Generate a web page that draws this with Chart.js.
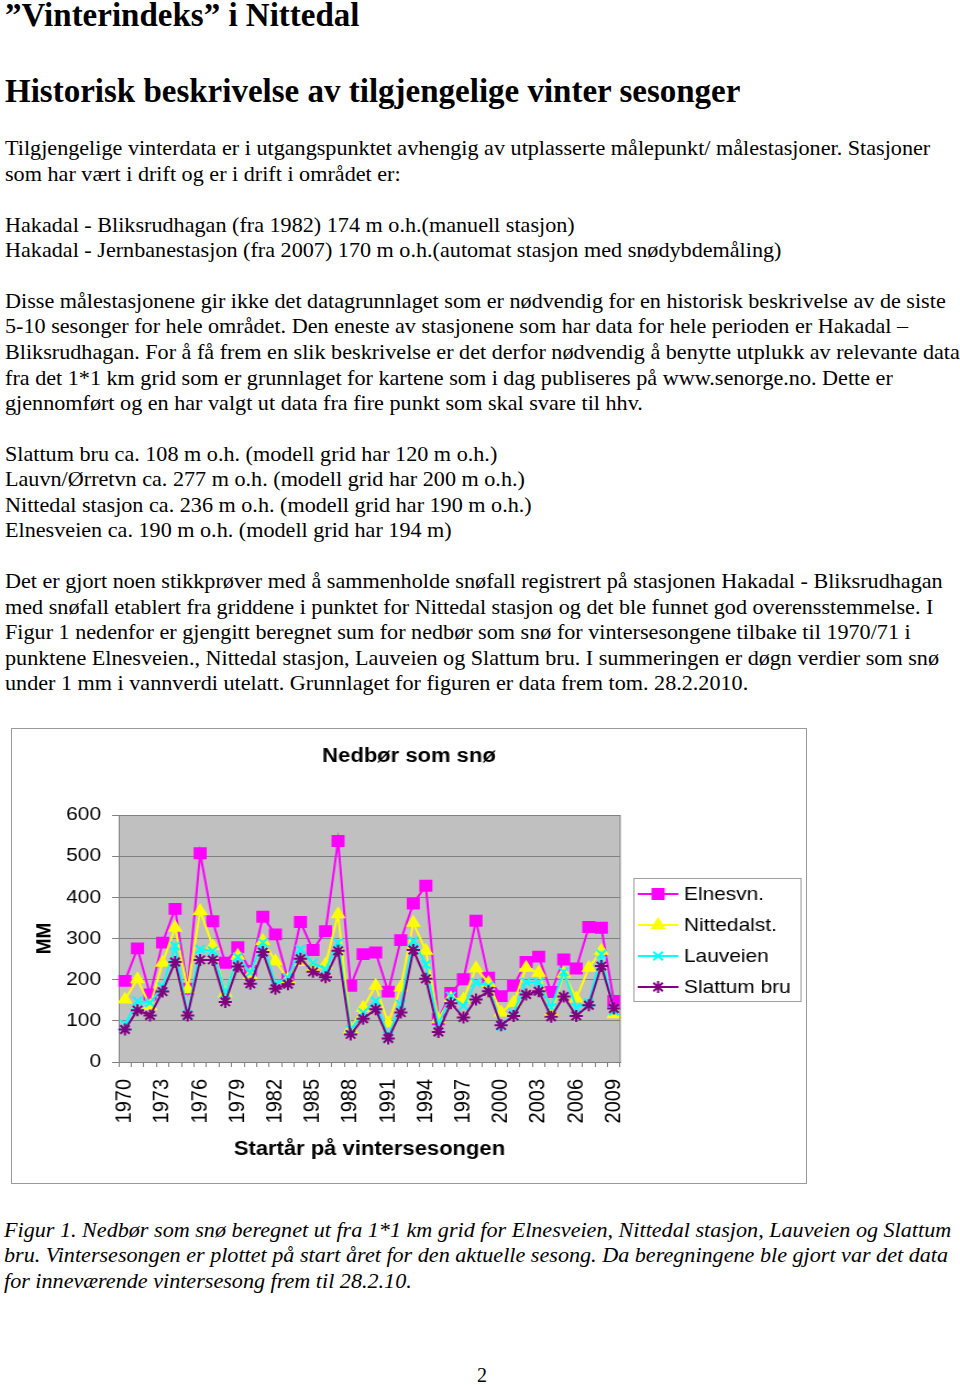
<!DOCTYPE html>
<html>
<head>
<meta charset="utf-8">
<script src="https://cdn.jsdelivr.net/npm/chart.js@4.4.0/dist/chart.umd.min.js"></script>
<style>
  body { margin: 0; background: #fff; width: 960px; height: 1385px; position: relative; overflow: hidden; }
  .t { position: absolute; left: 5px; white-space: nowrap; font-family: "Liberation Serif", "Times New Roman", serif; color: #000; transform-origin: 0 0; }
  .h1 { font-size: 33px; font-weight: bold; line-height: 36px; }
  .p { font-size: 21px; line-height: 24px; transform: scaleX(1.055); }
  .cap { font-size: 21px; line-height: 24px; font-style: italic; left: 4px; transform: scaleX(1.054); }
  #box { position: absolute; left: 11px; top: 728px; width: 794px; height: 454px; border: 1px solid #9a9a9a; overflow: hidden; }
  /* the source figure is stretched sideways, so the chart is too */
  #stretch { position: absolute; left: 0; top: 0; width: 722px; height: 454px; transform: scaleX(1.09972); transform-origin: 0 0; }
</style>
</head>
<body>

<div class="t h1" style="top:-3px">”Vinterindeks” i Nittedal</div>
<div class="t h1" style="top:73px">Historisk beskrivelse av tilgjengelige vinter sesonger</div>

<div class="t p" style="top:136px">Tilgjengelige vinterdata er i utgangspunktet avhengig av utplasserte målepunkt/ målestasjoner. Stasjoner</div>
<div class="t p" style="top:162px">som har vært i drift og er i drift i området er:</div>
<div class="t p" style="top:213px">Hakadal - Bliksrudhagan (fra 1982) 174 m o.h.(manuell stasjon)</div>
<div class="t p" style="top:238px">Hakadal - Jernbanestasjon (fra 2007) 170 m o.h.(automat stasjon med snødybdemåling)</div>
<div class="t p" style="top:289px">Disse målestasjonene gir ikke det datagrunnlaget som er nødvendig for en historisk beskrivelse av de siste</div>
<div class="t p" style="top:314px">5-10 sesonger for hele området. Den eneste av stasjonene som har data for hele perioden er Hakadal –</div>
<div class="t p" style="top:340px">Bliksrudhagan. For å få frem en slik beskrivelse er det derfor nødvendig å benytte utplukk av relevante data</div>
<div class="t p" style="top:366px">fra det 1*1 km grid som er grunnlaget for kartene som i dag publiseres på www.senorge.no. Dette er</div>
<div class="t p" style="top:391px">gjennomført og en har valgt ut data fra fire punkt som skal svare til hhv.</div>
<div class="t p" style="top:442px">Slattum bru ca. 108 m o.h. (modell grid har 120 m o.h.)</div>
<div class="t p" style="top:467px">Lauvn/Ørretvn ca. 277 m o.h. (modell grid har 200 m o.h.)</div>
<div class="t p" style="top:493px">Nittedal stasjon ca. 236 m o.h. (modell grid har 190 m o.h.)</div>
<div class="t p" style="top:518px">Elnesveien ca. 190 m o.h. (modell grid har 194 m)</div>
<div class="t p" style="top:569px">Det er gjort noen stikkprøver med å sammenholde snøfall registrert på stasjonen Hakadal - Bliksrudhagan</div>
<div class="t p" style="top:595px">med snøfall etablert fra griddene i punktet for Nittedal stasjon og det ble funnet god overensstemmelse. I</div>
<div class="t p" style="top:620px">Figur 1 nedenfor er gjengitt beregnet sum for nedbør som snø for vintersesongene tilbake til 1970/71 i</div>
<div class="t p" style="top:646px">punktene Elnesveien., Nittedal stasjon, Lauveien og Slattum bru. I summeringen er døgn verdier som snø</div>
<div class="t p" style="top:671px">under 1 mm i vannverdi utelatt. Grunnlaget for figuren er data frem tom. 28.2.2010.</div>

<div id="box"><div id="stretch"><canvas id="chart" width="722" height="454"></canvas></div></div>

<div class="t cap" style="top:1218px">Figur 1. Nedbør som snø beregnet ut fra 1*1 km grid for Elnesveien, Nittedal stasjon, Lauveien og Slattum</div>
<div class="t cap" style="top:1243px">bru. Vintersesongen er plottet på start året for den aktuelle sesong. Da beregningene ble gjort var det data</div>
<div class="t cap" style="top:1269px">for inneværende vintersesong frem til 28.2.10.</div>

<div class="t" style="top:1363px;left:477px;font-size:20px;line-height:24px">2</div>

<script>
// seasons (start year)
var years = ['1970','1971','1972','1973','1974','1975','1976','1977','1978','1979',
             '1980','1981','1982','1983','1984','1985','1986','1987','1988','1989',
             '1990','1991','1992','1993','1994','1995','1996','1997','1998','1999',
             '2000','2001','2002','2003','2004','2005','2006','2007','2008','2009'];

var elnesvn = [197, 276, 164, 290, 372, 178, 507, 342, 241, 279,
               221, 353, 310, 201, 340, 272, 318, 537, 185, 262,
               266, 171, 296, 385, 428, 104, 168, 201, 343, 205,
               160, 185, 243, 256, 170, 249, 227, 328, 326, 148];

var nittedalst = [152, 201, 136, 241, 326, 177, 367, 282, 167, 258,
                  212, 294, 245, 201, 243, 229, 237, 359, 80, 132,
                  185, 94, 181, 338, 270, 104, 155, 152, 228, 192,
                  120, 144, 229, 217, 120, 215, 154, 229, 270, 116];

var lauveien = [92, 148, 144, 183, 282, 115, 274, 270, 168, 255,
                217, 290, 189, 205, 274, 241, 225, 290, 79, 120,
                148, 63, 140, 294, 237, 91, 160, 136, 193, 185,
                87, 120, 194, 194, 132, 219, 132, 144, 262, 124];

var slattum = [79, 126, 113, 171, 243, 113, 248, 248, 146, 232,
               190, 267, 178, 189, 251, 219, 206, 270, 67, 105,
               128, 57, 120, 272, 202, 73, 143, 108, 152, 172,
               89, 112, 164, 172, 110, 159, 112, 138, 233, 130];

var yTicks = [0, 100, 200, 300, 400, 500, 600];

var SANS = '"Liberation Sans", Arial, sans-serif';

var decor = {
    id: 'decor',
    beforeDraw: function(chart) {
        var ctx = chart.ctx, a = chart.chartArea;
        ctx.save();
        ctx.fillStyle = '#c0c0c0';
        ctx.fillRect(a.left, a.top, a.right - a.left, a.bottom - a.top);
        ctx.restore();
    },
    afterDraw: function(chart) {
        var ctx = chart.ctx, a = chart.chartArea;
        ctx.save();
        // right edge of plot
        ctx.strokeStyle = '#808080';
        ctx.lineWidth = 1;
        ctx.beginPath();
        ctx.moveTo(a.right, a.top);
        ctx.lineTo(a.right, a.bottom);
        ctx.stroke();

        // title
        ctx.fillStyle = '#000';
        ctx.font = 'bold 20px ' + SANS;
        ctx.textAlign = 'center';
        ctx.textBaseline = 'middle';
        ctx.fillText('Nedbør som snø', 361, 27);

        // legend with frame
        var lx = 565, ly = 149, lw = 152, lh = 123;
        ctx.fillStyle = '#fff';
        ctx.fillRect(lx, ly, lw, lh);
        ctx.strokeStyle = '#a0a0a0';
        ctx.lineWidth = 1;
        ctx.strokeRect(lx + 0.5, ly + 0.5, lw, lh);
        ctx.font = '19px ' + SANS;
        ctx.textAlign = 'left';
        chart.data.datasets.forEach(function(ds, i) {
            var cy = ly + 16 + i * 31;
            ctx.strokeStyle = ds.borderColor;
            ctx.lineWidth = 2;
            ctx.beginPath();
            ctx.moveTo(lx + 4, cy);
            ctx.lineTo(lx + 41, cy);
            ctx.stroke();
            ctx.fillStyle = ds.backgroundColor;
            Chart.helpers.drawPoint(ctx, {
                pointStyle: ds.pointStyle,
                radius: ds.pointRadius,
                borderWidth: 2,
                rotation: 0
            }, lx + 22.5, cy);
            ctx.fillStyle = '#000';
            ctx.fillText(ds.label, lx + 46, cy + 1);
        });
        ctx.restore();
    }
};

function series(label, data, color, style, radius, order) {
    return {
        label: label,
        data: data,
        borderColor: color,
        backgroundColor: color,
        pointStyle: style,
        pointRadius: radius,
        pointHoverRadius: radius,
        pointBorderWidth: 2,
        borderWidth: 2,
        tension: 0,
        order: order
    };
}

new Chart(document.getElementById('chart'), {
    type: 'line',
    data: {
        labels: years,
        datasets: [
            series('Elnesvn.', elnesvn, '#ff00ff', 'rect', 7, 4),
            series('Nittedalst.', nittedalst, '#ffff00', 'triangle', 6, 3),
            series('Lauveien', lauveien, '#00ffff', 'crossRot', 6, 2),
            series('Slattum bru', slattum, '#800080', 'star', 6, 1)
        ]
    },
    options: {
        responsive: false,
        animation: false,
        layout: { padding: { left: 0, right: 169, top: 86, bottom: 18 } },
        plugins: {
            legend: { display: false },
            tooltip: { enabled: false },
            title: { display: false }
        },
        scales: {
            x: {
                offset: true,
                grid: { drawOnChartArea: false, offset: true, tickLength: 5, color: '#808080' },
                border: { color: '#808080', width: 1 },
                ticks: {
                    autoSkip: false,
                    minRotation: 90,
                    maxRotation: 90,
                    padding: 12,
                    color: '#000',
                    font: { family: SANS, size: 20 },
                    callback: function(v, i) { return i % 3 === 0 ? years[i] : ''; }
                },
                title: {
                    display: true,
                    text: 'Startår på vintersesongen',
                    color: '#000',
                    font: { family: SANS, size: 20, weight: 'bold' },
                    padding: { top: 0, bottom: 4 }
                },
                afterFit: function(s) { s.height = 103; }
            },
            y: {
                min: yTicks[0],
                max: yTicks[yTicks.length - 1],
                afterBuildTicks: function(s) { s.ticks = yTicks.map(function(v) { return { value: v }; }); },
                grid: { color: '#808080', tickLength: 6 },
                border: { color: '#808080', width: 1 },
                ticks: {
                    padding: 10,
                    color: '#000',
                    font: { family: SANS, size: 19 }
                },
                title: {
                    display: true,
                    text: 'MM',
                    color: '#000',
                    font: { family: SANS, size: 19, weight: 'bold' },
                    padding: { top: 18, bottom: 0 }
                },
                afterFit: function(s) { s.width = 97; }
            }
        }
    },
    plugins: [decor]
});
</script>
</body>
</html>
